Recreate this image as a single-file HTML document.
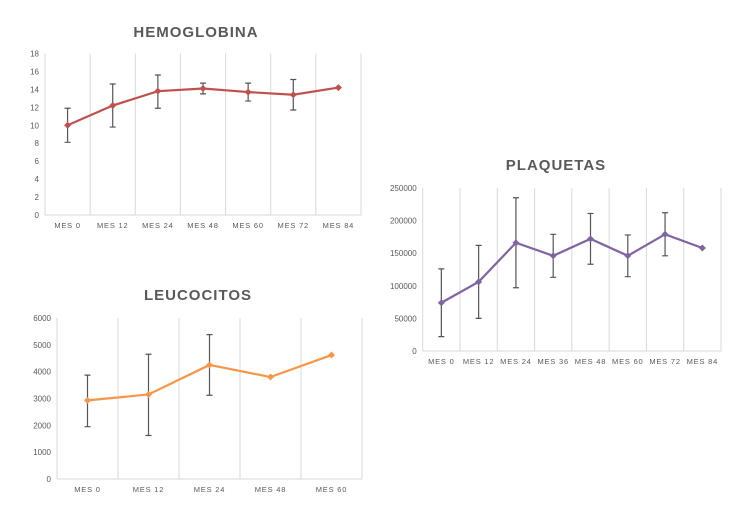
<!DOCTYPE html>
<html><head><meta charset="utf-8"><style>
body{margin:0;background:#fff;width:750px;height:520px;overflow:hidden}
svg{font-family:"Liberation Sans",sans-serif}
</style></head><body>
<svg id="s" width="750" height="520"></svg>
<script>
const hemoCats=["MES 0","MES 12","MES 24","MES 48","MES 60","MES 72","MES 84"];
const hemoVals=[10,12.2,13.8,14.1,13.7,13.4,14.2];
const hemoLo=[8.1,9.8,11.9,13.5,12.7,11.7,null];
const hemoHi=[11.9,14.6,15.6,14.7,14.7,15.1,null];
const hemoTicks=[0,2,4,6,8,10,12,14,16,18];

const plaqCats=["MES 0","MES 12","MES 24","MES 36","MES 48","MES 60","MES 72","MES 84"];
const plaqVals=[74000,106000,166000,146000,172000,146000,179000,158000];
const plaqLo=[22000,50000,97000,113000,133000,114000,146000,null];
const plaqHi=[126000,162000,235000,179000,211000,178000,212000,null];
const plaqTicks=[0,50000,100000,150000,200000,250000];

const leucCats=["MES 0","MES 12","MES 24","MES 48","MES 60"];
const leucVals=[2930,3150,4250,3800,4620];
const leucLo=[1950,1620,3120,null,null];
const leucHi=[3870,4650,5380,null,null];
const leucTicks=[0,1000,2000,3000,4000,5000,6000];

const svg=document.getElementById('s');
const NS='http://www.w3.org/2000/svg';
function mk(tag,attrs,parent){const e=document.createElementNS(NS,tag);for(const k in attrs)e.setAttribute(k,attrs[k]);(parent||svg).appendChild(e);return e;}

function chart(o){
  const g=mk('g',{});
  
  
  const n=o.cats.length,w=(o.x1-o.x0)/n,max=o.ticks[o.ticks.length-1];
  const X=i=>o.x0+w*(i+0.5);
  const Y=v=>o.y0-(v/max)*(o.y0-o.y1);
  const t=mk('text',{x:o.tx,y:o.ty,'text-anchor':'middle','font-size':15,'font-weight':'bold',fill:'#595959','letter-spacing':'1'},g);
  t.textContent=o.title;
  
  
  for(let i=1;i<=n;i++){
    const l=mk('line',{x1:o.x0+w*i,x2:o.x0+w*i,y1:o.y1,y2:o.y0,stroke:'#d9d9d9','stroke-width':1},g);
    
    
  }
  const ax=mk('line',{x1:o.x0,x2:o.x0,y1:o.y1,y2:o.y0,stroke:'#d9d9d9'},g);
  
  
  const bx=mk('line',{x1:o.x0,x2:o.x1,y1:o.y0,y2:o.y0,stroke:'#d9d9d9'},g);
  
  
  o.ticks.forEach(v=>{
    const tt=mk('text',{x:o.x0-6,y:Y(v)+3,'text-anchor':'end','font-size':8,fill:'#595959'},g);
    tt.textContent=v;
    
    
  });
  o.cats.forEach((c,i)=>{
    const tt=mk('text',{x:X(i),y:o.y0+13,'text-anchor':'middle','font-size':7.5,fill:'#595959','letter-spacing':'0.8'},g);
    tt.textContent=c;
    
    
  });
  const p=mk('polyline',{points:o.vals.map((v,i)=>X(i)+','+Y(v)).join(' '),fill:'none',stroke:o.color,'stroke-width':2.2},g);
  
  
  o.vals.forEach((v,i)=>{
    if(o.lo[i]!=null){
      const e=mk('path',{d:`M${X(i)},${Y(o.lo[i])}V${Y(o.hi[i])}M${X(i)-3},${Y(o.lo[i])}h6M${X(i)-3},${Y(o.hi[i])}h6`,stroke:'#555',fill:'none','stroke-width':1.2},g);
      
      
    }
    const x=X(i),y=Y(v);
    const m=mk('path',{d:`M${x},${y-3.5}L${x+3.5},${y}L${x},${y+3.5}L${x-3.5},${y}Z`,fill:o.color},g);
    
    
  });
}
chart({name:'hemoglobina',title:'HEMOGLOBINA',tx:196,ty:37,x0:45,x1:361,y0:215,y1:53.5,cats:hemoCats,vals:hemoVals,lo:hemoLo,hi:hemoHi,ticks:hemoTicks,color:'#c0504d'});
chart({name:'plaquetas',title:'PLAQUETAS',tx:556,ty:170,x0:422.7,x1:721,y0:351,y1:188,cats:plaqCats,vals:plaqVals,lo:plaqLo,hi:plaqHi,ticks:plaqTicks,color:'#8064a2'});
chart({name:'leucocitos',title:'LEUCOCITOS',tx:198,ty:300,x0:57,x1:362,y0:479,y1:318,cats:leucCats,vals:leucVals,lo:leucLo,hi:leucHi,ticks:leucTicks,color:'#f79646'});
</script>
</body></html>
